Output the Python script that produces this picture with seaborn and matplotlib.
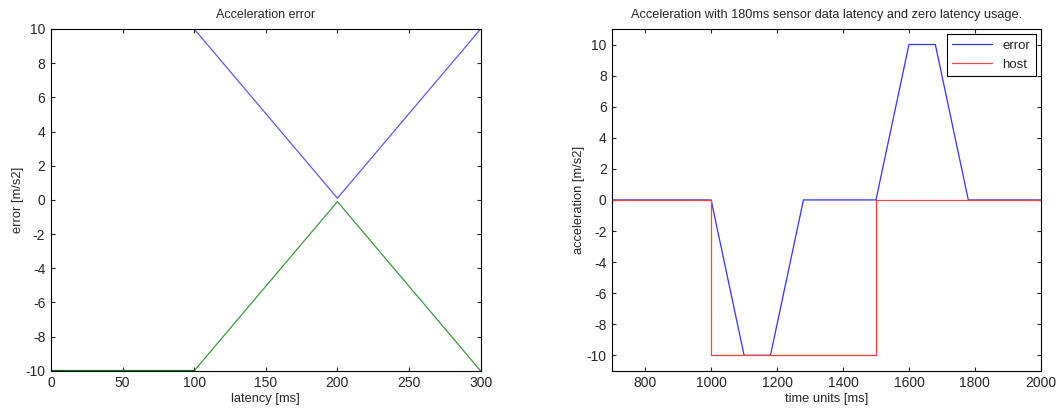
import numpy as np
import pandas as pd
import matplotlib.pyplot as plt
import seaborn as sns

sns.set_style("ticks")
plt.rcParams.update({
    'font.family': ['Liberation Sans', 'DejaVu Sans'],
    'axes.unicode_minus': False,
    'xtick.direction': 'in',
    'ytick.direction': 'in',
    'xtick.major.size': 3,
    'ytick.major.size': 3,
    'axes.linewidth': 0.8,
    'axes.edgecolor': 'black',
})

# left panel: acceleration error vs latency
lat_err = [100, 200, 300]
err_pos = [10, 0.1, 10]
lat_neg = [0, 100, 200, 300]
err_neg = [-10, -10, -0.1, -10]

# right panel: acceleration over time
t_error = [700, 1000, 1100, 1180, 1280, 1500, 1600, 1680, 1780, 2000]
a_error = [0, 0, -10, -10, 0, 0, 10, 10, 0, 0]
t_host = [700, 1000, 1000, 1500, 1500, 1501, 1501, 2000]
a_host = [0, 0, -10, -10, -5, -5, 0, 0]

fig = plt.figure(figsize=(10.61, 4.08), dpi=100)
ax1 = fig.add_axes([0.048, 0.091, 0.405, 0.838])
ax2 = fig.add_axes([0.577, 0.091, 0.404, 0.838])

sns.lineplot(x=lat_err, y=err_pos, ax=ax1, color='#5a5aff', lw=0.9, sort=False, estimator=None)
sns.lineplot(x=lat_neg, y=err_neg, ax=ax1, color='#3c9a3c', lw=0.9, sort=False, estimator=None)
ax1.plot(lat_neg[:2], err_neg[:2], color='#007000', lw=1.6)
ax1.set_xlim(0, 300)
ax1.set_ylim(-10, 10)
ax1.set_xticks(np.arange(0, 301, 50))
ax1.set_yticks(np.arange(-10, 11, 2))
ax1.set_title('Acceleration error', fontsize=9, pad=8)
ax1.set_xlabel('latency [ms]', fontsize=9.3, labelpad=2)
ax1.set_ylabel('error [m/s2]', fontsize=9.3, labelpad=1)

df_e = pd.DataFrame({'t': t_error, 'a': a_error})
df_h = pd.DataFrame({'t': t_host, 'a': a_host})
sns.lineplot(data=df_e, x='t', y='a', ax=ax2, color='#3333ff', lw=0.9,
             sort=False, estimator=None, label='error')
sns.lineplot(data=df_h, x='t', y='a', ax=ax2, color='#ff4040', lw=0.9,
             sort=False, estimator=None, label='host')
ax2.set_xlim(700, 2000)
ax2.set_ylim(-11, 11)
ax2.set_xticks(np.arange(800, 2001, 200))
ax2.set_yticks(np.arange(-10, 11, 2))
ax2.set_title('Acceleration with 180ms sensor data latency and zero latency usage.',
              fontsize=9.2, pad=8)
ax2.set_xlabel('time units [ms]', fontsize=9.3, labelpad=2)
ax2.set_ylabel('acceleration [m/s2]', fontsize=9.3, labelpad=1)
leg = ax2.legend(loc='upper right', fontsize=9.5, fancybox=False, framealpha=1,
                 edgecolor='black', handlelength=3, borderaxespad=0.4)
leg.get_frame().set_linewidth(0.8)

for ax in (ax1, ax2):
    ax.tick_params(top=True, right=True, labelsize=10, pad=4)
    for s in ax.spines.values():
        s.set_visible(True)

fig.savefig('out.png', dpi=100)
